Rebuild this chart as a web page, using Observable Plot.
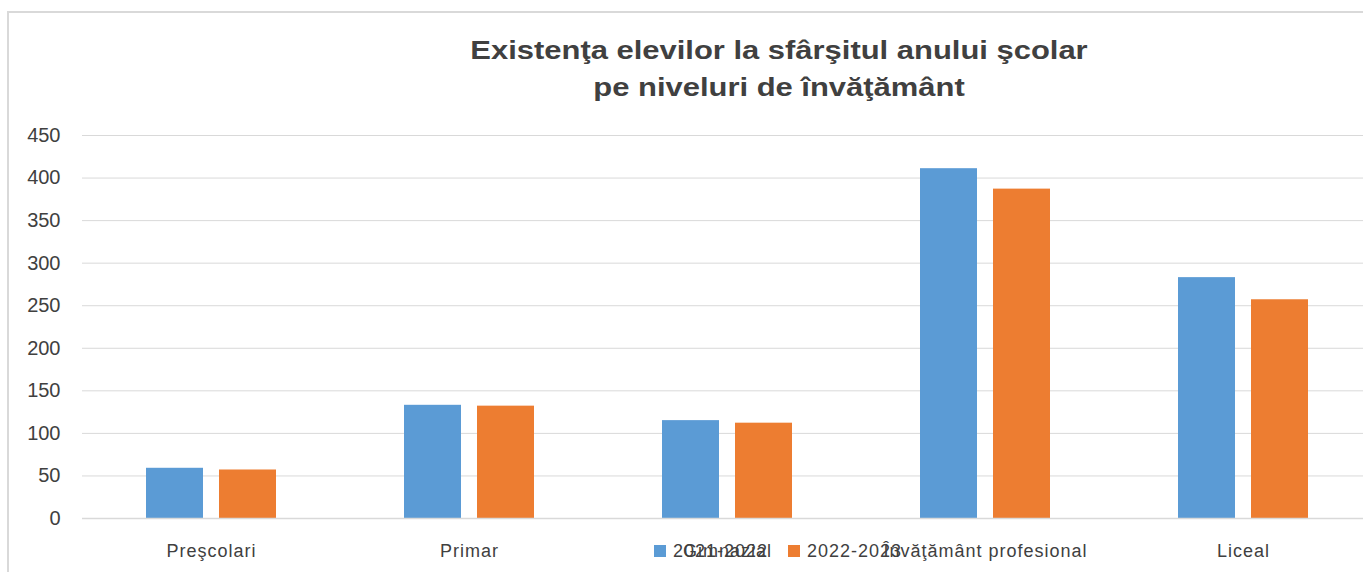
<!DOCTYPE html>
<html>
<head>
<meta charset="utf-8">
<script src="https://cdn.jsdelivr.net/npm/d3@7"></script>
<script src="https://cdn.jsdelivr.net/npm/@observablehq/plot@0.6"></script>
<style>
  html, body { margin: 0; padding: 0; background: #fff; }
  #page { position: relative; width: 1363px; height: 572px; overflow: hidden; background: #fff; font-family: "Liberation Sans", Arial, sans-serif; }
  #frame { position: absolute; left: 7px; top: 11px; width: 1420px; height: 620px; border: 2px solid #d9d9d9; box-sizing: border-box; }
  #chart { position: absolute; left: 0; top: 0; width: 1380px; height: 572px; }
  #chart svg { max-width: none !important; width: 1380px !important; height: 572px !important; }
  #title { position: absolute; left: 779px; top: 32px; transform: translateX(-50%) scaleX(1.19); text-align: center; white-space: nowrap;
           font-weight: bold; font-size: 26px; line-height: 37px; color: #404040; }
  .leg-sw { position: absolute; width: 12px; height: 12px; }
  .leg-tx { position: absolute; font-size: 18px; line-height: 18px; letter-spacing: 1px; color: #404040; white-space: nowrap; }
  svg g[aria-label^="fx-axis"] text { letter-spacing: 1px; }
</style>
</head>
<body>
<div id="page">
  <div id="frame"></div>
  <div id="chart"></div>
  <div id="title"></div>
  <div id="legend"></div>
</div>
<script>
const titleLines = ["Existenţa elevilor la sfârşitul anului şcolar", "pe niveluri de învăţământ"];
const categories = ["Preşcolari", "Primar", "Gimnazial", "Învăţământ profesional", "Liceal"];
const seriesLabels = ["2021-2022", "2022-2023"];
const values2021_2022 = [59, 133, 115, 411, 283];
const values2022_2023 = [57, 132, 112, 387, 257];
const yTicks = [0, 50, 100, 150, 200, 250, 300, 350, 400, 450];
const seriesColors = ["#5b9bd5", "#ed7d31"];

const seriesValues = [values2021_2022, values2022_2023];
const rows = categories.flatMap((c, i) =>
  seriesLabels.map((s, j) => ({category: c, year: s, value: seriesValues[j][i]}))
);

const chart = Plot.plot({
  width: 1380,
  height: 572,
  marginTop: 135,
  marginBottom: 54,
  marginLeft: 82,
  marginRight: 8,
  style: {fontFamily: "Liberation Sans, Arial, sans-serif", color: "#404040", background: "transparent"},
  fx: {domain: categories, padding: 0, label: null},
  x: {domain: seriesLabels, paddingInner: 0.22, paddingOuter: 0.855, axis: null},
  y: {domain: [0, 450], label: null},
  color: {domain: seriesLabels, range: seriesColors},
  marks: [
    Plot.gridY(yTicks, {stroke: "#d9d9d9", strokeOpacity: 1}),
    Plot.barY(rows, {fx: "category", x: "year", y: "value", fill: "year"}),
    Plot.ruleY([0], {stroke: "#d9d9d9", strokeWidth: 1.5}),
    Plot.axisY(yTicks, {tickSize: 0, tickPadding: 22, fontSize: 20, label: null, fill: "#404040"}),
    Plot.axisFx({anchor: "bottom", tickSize: 0, tickPadding: 26, fontSize: 18, label: null, fill: "#404040"})
  ]
});
document.getElementById("chart").appendChild(chart);

const title = document.getElementById("title");
titleLines.forEach(t => { const d = document.createElement("div"); d.textContent = t; title.appendChild(d); });

const legend = document.getElementById("legend");
const legendSwatchX = [654, 788];
seriesLabels.forEach((s, i) => {
  const sw = document.createElement("div");
  sw.className = "leg-sw";
  sw.style.left = legendSwatchX[i] + "px";
  sw.style.top = "545px";
  sw.style.background = seriesColors[i];
  legend.appendChild(sw);
  const tx = document.createElement("div");
  tx.className = "leg-tx";
  tx.style.left = (legendSwatchX[i] + 19) + "px";
  tx.style.top = "542px";
  tx.textContent = s;
  legend.appendChild(tx);
});
</script>
</body>
</html>
